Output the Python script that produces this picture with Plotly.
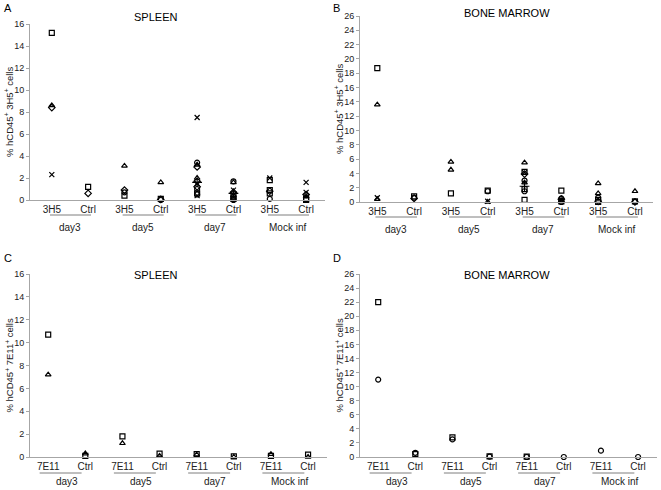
import plotly.graph_objects as go

W, H = 661, 490

# ---------------- data ----------------
cat_labels_3h5 = ["3H5", "Ctrl", "3H5", "Ctrl", "3H5", "Ctrl", "3H5", "Ctrl"]
cat_labels_7e11 = ["7E11", "Ctrl", "7E11", "Ctrl", "7E11", "Ctrl", "7E11", "Ctrl"]
group_labels = ["day3", "day5", "day7", "Mock inf"]

# Panel A: SPLEEN, % hCD45+ 3H5+ (category index, value)
A_square_cat = [0, 1, 2, 3, 4, 5, 5, 6, 6, 6, 7, 7]
A_square_val = [15.2, 1.2, 0.4, 0.1, 0.6, 0.5, 0.1, 1.8, 0.9, 0.6, 0.1, 0.0]
A_triangle_cat = [0, 2, 3, 4, 4, 5, 5, 7]
A_triangle_val = [8.6, 3.1, 1.6, 3.2, 2.0, 1.6, 0.2, 0.3]
A_diamond_cat = [0, 1, 2, 3, 4, 4, 4, 5, 6, 7]
A_diamond_val = [8.4, 0.6, 0.9, 0.05, 3.0, 1.7, 1.2, 0.7, 0.8, 0.5]
A_cross_cat = [0, 4, 4, 4, 5, 6, 7, 7]
A_cross_val = [2.3, 7.5, 1.5, 0.4, 0.9, 2.0, 1.6, 0.7]
A_circle_cat = [2, 3, 4, 4, 4, 5, 5, 5, 6]
A_circle_val = [0.7, 0.0, 3.4, 1.0, 0.5, 1.7, 0.3, 0.0, 0.1]
A_plus_cat = [4, 5]
A_plus_val = [1.6, 0.6]

# Panel B: BONE MARROW, % hCD45+ 3H5+
B_square_cat = [0, 1, 2, 3, 4, 4, 4, 5, 5, 6, 6, 7]
B_square_val = [18.7, 0.8, 1.2, 1.6, 4.2, 1.8, 0.3, 1.6, 0.1, 0.3, 0.0, 0.1]
B_triangle_cat = [0, 0, 2, 2, 3, 4, 4, 5, 6, 6, 7]
B_triangle_val = [13.6, 0.4, 5.6, 4.5, 0.0, 5.5, 2.7, 0.2, 2.6, 1.2, 1.5]
B_cross_cat = [0, 3, 4, 5]
B_cross_val = [0.6, 0.1, 4.1, 0.3]
B_diamond_cat = [1, 4, 5, 6, 7]
B_diamond_val = [0.5, 3.9, 0.4, 0.1, 0.0]
B_circle_cat = [1, 3, 4, 4, 5, 5, 6, 7]
B_circle_val = [0.6, 1.5, 3.0, 1.5, 0.5, 0.0, 0.6, 0.05]
B_plus_cat = [4]
B_plus_val = [2.2]

# Panel C: SPLEEN, % hCD45+ 7E11+
C_square_cat = [0, 1, 2, 3, 4, 5, 6, 7]
C_square_val = [10.7, 0.1, 1.8, 0.3, 0.25, 0.05, 0.1, 0.2]
C_triangle_cat = [0, 1, 2, 3, 4, 5, 6, 7]
C_triangle_val = [7.2, 0.3, 1.2, 0.1, 0.2, 0.0, 0.25, 0.0]

# Panel D: BONE MARROW, % hCD45+ 7E11+
D_square_cat = [0, 1, 2, 3, 4]
D_square_val = [22.0, 0.4, 2.8, 0.1, 0.05]
D_circle_cat = [0, 1, 2, 3, 4, 5, 6, 7]
D_circle_val = [11.0, 0.6, 2.5, 0.05, 0.0, 0.0, 0.9, 0.0]

# ---------------- layout helpers ----------------
def px_x(p):
    return p / W

def px_y(p):
    return 1 - p / H

FONT = "Liberation Sans, Arial, sans-serif"
AXIS_COL = "#a6a6a6"
TXT_COL = "#222222"

panels = {
    "A": dict(l=30, r=325, t=24, b=200, xr=[-0.6, 7.52], ymax=16),
    "B": dict(l=360, r=653, t=16, b=202, xr=[-0.47, 7.49], ymax=26),
    "C": dict(l=30, r=327, t=274, b=457, xr=[-0.49, 7.51], ymax=16),
    "D": dict(l=360, r=657, t=274, b=457, xr=[-0.49, 7.51], ymax=26),
}
axis_ids = {"A": ("x", "y"), "B": ("x2", "y2"), "C": ("x3", "y3"), "D": ("x4", "y4")}

symbols = {
    "square": "square-open",
    "triangle": "triangle-up-open",
    "diamond": "diamond-open",
    "cross": "x-thin-open",
    "circle": "circle-open",
    "plus": "cross-thin-open",
}
sizes = {"square": 5, "triangle": 5, "diamond": 5, "cross": 5, "circle": 5, "plus": 7}

series = {
    "A": [("square", A_square_cat, A_square_val), ("triangle", A_triangle_cat, A_triangle_val),
          ("diamond", A_diamond_cat, A_diamond_val), ("cross", A_cross_cat, A_cross_val),
          ("circle", A_circle_cat, A_circle_val), ("plus", A_plus_cat, A_plus_val)],
    "B": [("square", B_square_cat, B_square_val), ("triangle", B_triangle_cat, B_triangle_val),
          ("cross", B_cross_cat, B_cross_val), ("diamond", B_diamond_cat, B_diamond_val),
          ("circle", B_circle_cat, B_circle_val), ("plus", B_plus_cat, B_plus_val)],
    "C": [("square", C_square_cat, C_square_val), ("triangle", C_triangle_cat, C_triangle_val)],
    "D": [("square", D_square_cat, D_square_val), ("circle", D_circle_cat, D_circle_val)],
}

fig = go.Figure()
layout = dict(
    width=W, height=H, margin=dict(l=0, r=0, t=0, b=0),
    paper_bgcolor="white", plot_bgcolor="white", showlegend=False,
    font=dict(family=FONT, size=10, color=TXT_COL),
)
annotations = []
shapes = []

titles = {"A": "SPLEEN", "B": "BONE MARROW", "C": "SPLEEN", "D": "BONE MARROW"}
ytitles = {
    "A": "% hCD45<sup>+</sup> 3H5<sup>+</sup> cells",
    "B": "% hCD45<sup>+</sup> 3H5<sup>+</sup> cells",
    "C": "% hCD45<sup>+</sup> 7E11<sup>+</sup> cells",
    "D": "% hCD45<sup>+</sup> 7E11<sup>+</sup> cells",
}
title_pos = {"A": (155, 17), "B": (507, 13), "C": (155, 275), "D": (507, 275)}
letter_pos = {"A": (2, 8), "B": (331, 8), "C": (2, 258), "D": (331, 258)}
ytitle_x = {"A": 9, "B": 339, "C": 9, "D": 339}

for key, g in panels.items():
    xa, ya = axis_ids[key]
    xname = "xaxis" + xa[1:]
    yname = "yaxis" + ya[1:]
    ticktext = cat_labels_3h5 if key in ("A", "B") else cat_labels_7e11
    layout[xname] = dict(
        domain=[px_x(g["l"]), px_x(g["r"])], range=g["xr"], anchor=ya,
        tickmode="array", tickvals=list(range(8)), ticktext=ticktext,
        showline=True, linecolor=AXIS_COL, linewidth=1, ticks="", showgrid=False,
        zeroline=False, tickfont=dict(size=10, color=TXT_COL, family=FONT),
        automargin=False,
    )
    layout[yname] = dict(
        domain=[px_y(g["b"]), px_y(g["t"])], range=[0, g["ymax"]], anchor=xa,
        tickmode="linear", tick0=0, dtick=2, showline=True, linecolor=AXIS_COL,
        linewidth=1, ticks="outside", ticklen=3, tickcolor=AXIS_COL, showgrid=False,
        zeroline=False, tickfont=dict(size=9, color=TXT_COL, family=FONT),
        automargin=False,
    )
    for name, cats, vals in series[key]:
        fig.add_trace(go.Scatter(
            x=cats, y=vals, mode="markers", xaxis=xa, yaxis=ya, cliponaxis=False,
            marker=dict(symbol=symbols[name], size=sizes[name], color="black",
                        line=dict(color="black", width=1.2)),
        ))
    tx, ty = title_pos[key]
    annotations.append(dict(text=titles[key], x=px_x(tx), y=px_y(ty), xref="paper", yref="paper",
                            xanchor="center", yanchor="middle", showarrow=False,
                            font=dict(size=11, color="black", family=FONT)))
    lx, ly = letter_pos[key]
    annotations.append(dict(text=key, x=px_x(lx), y=px_y(ly), xref="paper", yref="paper",
                            xanchor="left", yanchor="middle", showarrow=False,
                            font=dict(size=11, color="black", family=FONT)))
    annotations.append(dict(text=ytitles[key], x=px_x(ytitle_x[key]),
                            y=px_y((g["t"] + g["b"]) / 2), xref="paper", yref="paper",
                            xanchor="center", yanchor="middle",
                            textangle=-90, showarrow=False,
                            font=dict(size=9.5, color=TXT_COL, family=FONT)))
    line_y = g["b"] + (15 if key in ("A", "B") else 16)
    lab_y = g["b"] + (27 if key in ("A", "B") else 24)
    off = 0.0 if key in ("A", "B") else -0.18
    for i, gl in enumerate(group_labels):
        c1, c2 = 2 * i, 2 * i + 1
        shapes.append(dict(type="line", xref=xa, yref="paper", x0=c1 + off - 0.05, x1=c2 + off + 0.08,
                           y0=px_y(line_y), y1=px_y(line_y), line=dict(color="#7f7f7f", width=1)))
        annotations.append(dict(text=gl, x=(c1 + c2) / 2, y=px_y(lab_y), xref=xa, yref="paper",
                                xanchor="center", yanchor="middle",
                                showarrow=False, font=dict(size=10, color=TXT_COL, family=FONT)))

layout["annotations"] = annotations
layout["shapes"] = shapes
fig.update_layout(**layout)
fig.write_html("out.html", config={"displayModeBar": False},
               post_script="document.body.style.margin='0';document.body.style.padding='0';")
